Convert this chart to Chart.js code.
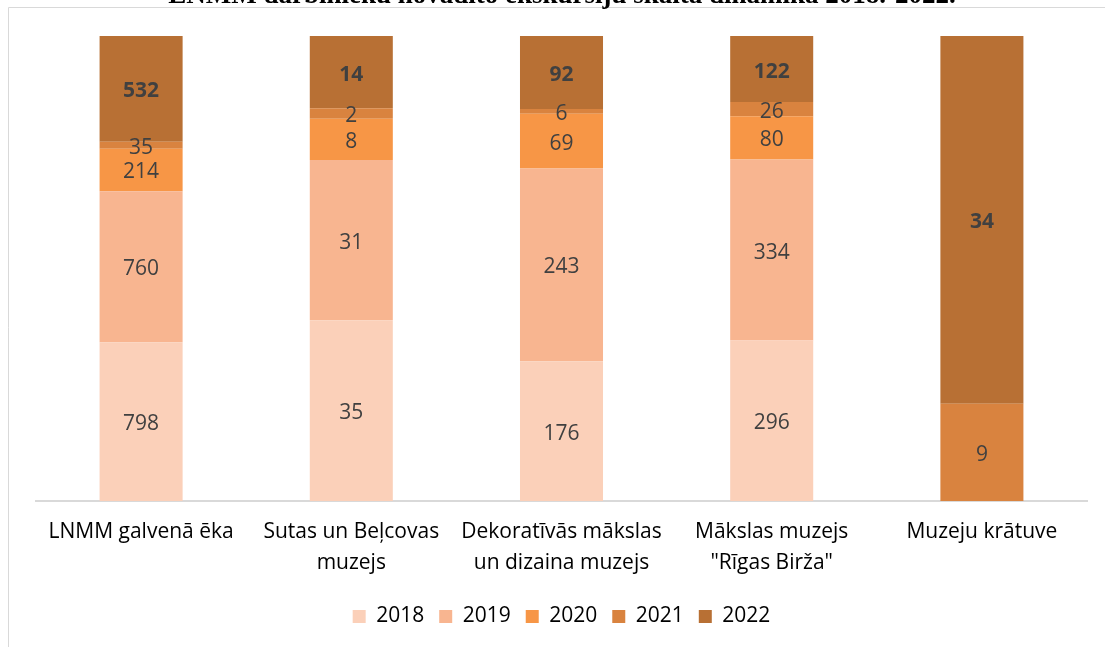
<!DOCTYPE html>
<html>
<head>
<meta charset="utf-8">
<script src="https://cdn.jsdelivr.net/npm/chart.js@4/dist/chart.umd.min.js"></script>
<style>
  html, body { margin: 0; padding: 0; background: #fff; }
  #wrap { position: relative; width: 1105px; height: 647px; overflow: hidden; }
  canvas { display: block; }
</style>
</head>
<body>
<div id="wrap"><canvas id="c" width="1105" height="647"></canvas></div>
<script>
// ---- Data ----
const chartTitle = "LNMM darbinieku novadīto ekskursiju skaita dinamika 2018.-2022.";
const categories = [
  "LNMM galvenā ēka",
  ["Sutas un Beļcovas", "muzejs"],
  ["Dekoratīvās mākslas", "un dizaina muzejs"],
  ["Mākslas muzejs", "\"Rīgas Birža\""],
  "Muzeju krātuve"
];
const seriesNames = ["2018", "2019", "2020", "2021", "2022"];
const values2018 = [798, 35, 176, 296, 0];
const values2019 = [760, 31, 243, 334, 0];
const values2020 = [214, 8, 69, 80, 0];
const values2021 = [35, 2, 6, 26, 9];
const values2022 = [532, 14, 92, 122, 34];
const seriesColors = ["#FBD0B9", "#F8B590", "#F79646", "#D9833F", "#B87034"];

const allSeries = [values2018, values2019, values2020, values2021, values2022];
const totals = categories.map((_, i) => allSeries.reduce((s, arr) => s + arr[i], 0));

const datasets = allSeries.map((arr, k) => ({
  label: seriesNames[k],
  data: arr.map((v, i) => totals[i] ? v / totals[i] * 100 : 0),
  rawValues: arr,
  backgroundColor: seriesColors[k],
  borderWidth: 0,
  boldLabel: k === 4,
  barPercentage: 0.395,
  categoryPercentage: 1.0
}));

const FONT = '"Open Sans", "DejaVu Sans", sans-serif';

const decorPlugin = {
  id: 'decor',
  beforeDraw(chart) {
    const ctx = chart.ctx;
    ctx.save();
    ctx.strokeStyle = '#d9d9d9';
    ctx.lineWidth = 1;
    ctx.beginPath();
    ctx.moveTo(8.5, 647);
    ctx.lineTo(8.5, 7.5);
    ctx.lineTo(1105, 7.5);
    ctx.stroke();
    ctx.fillStyle = '#000';
    ctx.font = 'bold 27px "Liberation Serif", serif';
    ctx.textAlign = 'center';
    ctx.textBaseline = 'alphabetic';
    ctx.fillText(chartTitle, 562, 3);
    ctx.restore();
  },
  afterDatasetsDraw(chart) {
    const ctx = chart.ctx;
    ctx.save();
    ctx.textAlign = 'center';
    ctx.textBaseline = 'middle';
    ctx.fillStyle = '#404040';
    chart.data.datasets.forEach((ds, di) => {
      const meta = chart.getDatasetMeta(di);
      ctx.font = (ds.boldLabel ? 'bold ' : '') + '21px ' + FONT;
      meta.data.forEach((el, i) => {
        const v = ds.rawValues[i];
        if (!v) return;
        const y = (el.y + el.base) / 2;
        ctx.fillText(String(v), el.x, y + 2.5);
      });
    });
    ctx.restore();
  }
};

new Chart(document.getElementById('c'), {
  type: 'bar',
  data: { labels: categories, datasets },
  options: {
    responsive: false,
    animation: false,
    layout: { padding: { left: 36, right: 18, top: 36, bottom: 10 } },
    plugins: {
      legend: {
        position: 'bottom',
        labels: {
          boxWidth: 13,
          boxHeight: 13,
          padding: 15,
          color: '#000',
          font: { family: FONT, size: 21 }
        }
      },
      tooltip: { enabled: false },
      title: { display: false }
    },
    scales: {
      x: {
        stacked: true,
        grid: { display: false, drawTicks: false },
        border: { display: true, color: '#d9d9d9', width: 2 },
        ticks: { color: '#000', font: { family: FONT, size: 21, lineHeight: 1.45 }, padding: 16, maxRotation: 0, autoSkip: false },
        afterFit(scale) { scale.height = 90; }
      },
      y: {
        stacked: true,
        min: 0,
        max: 100,
        display: false
      }
    }
  },
  plugins: [decorPlugin]
});
</script>
</body>
</html>
